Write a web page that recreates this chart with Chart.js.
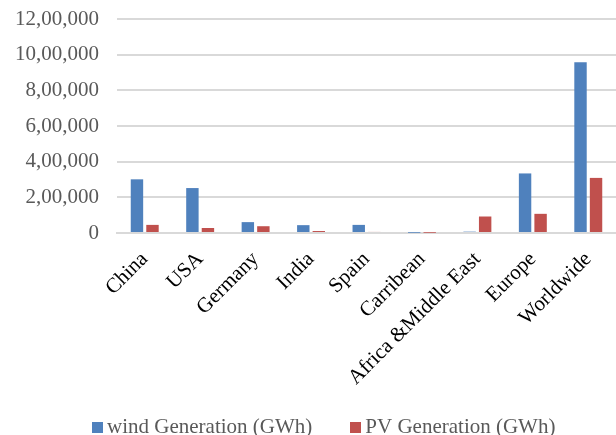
<!DOCTYPE html>
<html>
<head>
<meta charset="utf-8">
<script src="https://cdn.jsdelivr.net/npm/chart.js@4"></script>
<style>
  html, body { margin: 0; padding: 0; background: #fff; }
  #wrap { width: 616px; height: 435px; position: relative; }
</style>
</head>
<body>
<div id="wrap"><canvas id="c" width="616" height="435"></canvas></div>
<script>
const categories = ["China", "USA", "Germany", "India", "Spain", "Carribean", "Africa &Middle East", "Europe", "Worldwide"];
const windGeneration = [301000, 252000, 61000, 44000, 45500, 1500, 7500, 334000, 957000];
const pvGeneration = [45500, 28000, 38000, 11000, 6000, 1500, 92500, 107500, 309000];
const seriesNames = ["wind Generation (GWh)", "PV Generation (GWh)"];
const seriesColors = ["#4F81BD", "#C0504D"];
const yTicks = [0, 200000, 400000, 600000, 800000, 1000000, 1200000];

function indianFormat(n) {
  const s = String(Math.round(n));
  if (s.length <= 3) return s;
  const last3 = s.slice(-3);
  let rest = s.slice(0, -3);
  const parts = [];
  while (rest.length > 2) { parts.unshift(rest.slice(-2)); rest = rest.slice(0, -2); }
  if (rest.length) parts.unshift(rest);
  return parts.join(",") + "," + last3;
}

const FONT = "'Liberation Serif', 'Times New Roman', serif";

// shift the legend block, and draw its colour keys closer to the text
const legendShift = {
  id: "legendShift",
  afterLayout(chart) {
    const l = chart.legend;
    if (!l) return;
    l.left += 25;
    l.top += 13;
    l.bottom += 13;
  },
  afterDraw(chart) {
    const l = chart.legend;
    if (!l || !l.legendHitBoxes) return;
    const ctx = chart.ctx;
    ctx.save();
    l.legendHitBoxes.forEach((hb, i) => {
      const cy = hb.top + hb.height / 2;
      ctx.fillStyle = seriesColors[i];
      ctx.fillRect(Math.round(hb.left + 6), Math.round(cy - 5.5), 11, 11);
    });
    ctx.restore();
  }
};

new Chart(document.getElementById("c"), {
  type: "bar",
  data: {
    labels: categories,
    datasets: [
      { label: seriesNames[0], data: windGeneration, backgroundColor: seriesColors[0],
        categoryPercentage: 0.56, barPercentage: 0.8 },
      { label: seriesNames[1], data: pvGeneration, backgroundColor: seriesColors[1],
        categoryPercentage: 0.56, barPercentage: 0.8 }
    ]
  },
  plugins: [legendShift],
  options: {
    responsive: false,
    animation: false,
    layout: { autoPadding: false, padding: { left: 0, top: 19, right: 0, bottom: 0 } },
    plugins: {
      tooltip: { enabled: false },
      legend: {
        position: "bottom",
        labels: {
          font: { family: FONT, size: 21 },
          color: "#595959",
          boxWidth: 11,
          boxHeight: 11,
          padding: 0,
          generateLabels: function (chart) {
            const items = Chart.defaults.plugins.legend.labels.generateLabels(chart);
            items.forEach((it, i) => {
              it.lineWidth = 0;
              it.fillStyle = "rgba(0,0,0,0)";
              if (i === 0) it.text = it.text + "\u00a0\u00a0\u00a0\u00a0\u00a0\u00a0";
            });
            return items;
          }
        }
      }
    },
    scales: {
      x: {
        grid: { display: false, drawTicks: false },
        border: { display: true, color: "#D9D9D9", width: 2 },
        ticks: {
          font: { family: FONT, size: 21 },
          color: "#000000",
          minRotation: 45,
          maxRotation: 45,
          autoSkip: false,
          padding: 14
        },
        afterFit: function (axis) { axis.height = 171; axis.paddingLeft = 0; axis.paddingRight = 0; }
      },
      y: {
        min: 0,
        max: 1200000,
        afterBuildTicks: function (axis) { axis.ticks = yTicks.map(v => ({ value: v })); },
        grid: { color: "#D9D9D9", lineWidth: 2, drawTicks: false },
        border: { display: false },
        ticks: {
          font: { family: FONT, size: 21, lineHeight: 0.8 },
          color: "#595959",
          padding: 18,
          callback: function (v) { return indianFormat(v); }
        },
        afterFit: function (axis) { axis.width = 117; axis.paddingTop = 0; axis.paddingBottom = 0; }
      }
    }
  }
});
</script>
</body>
</html>
